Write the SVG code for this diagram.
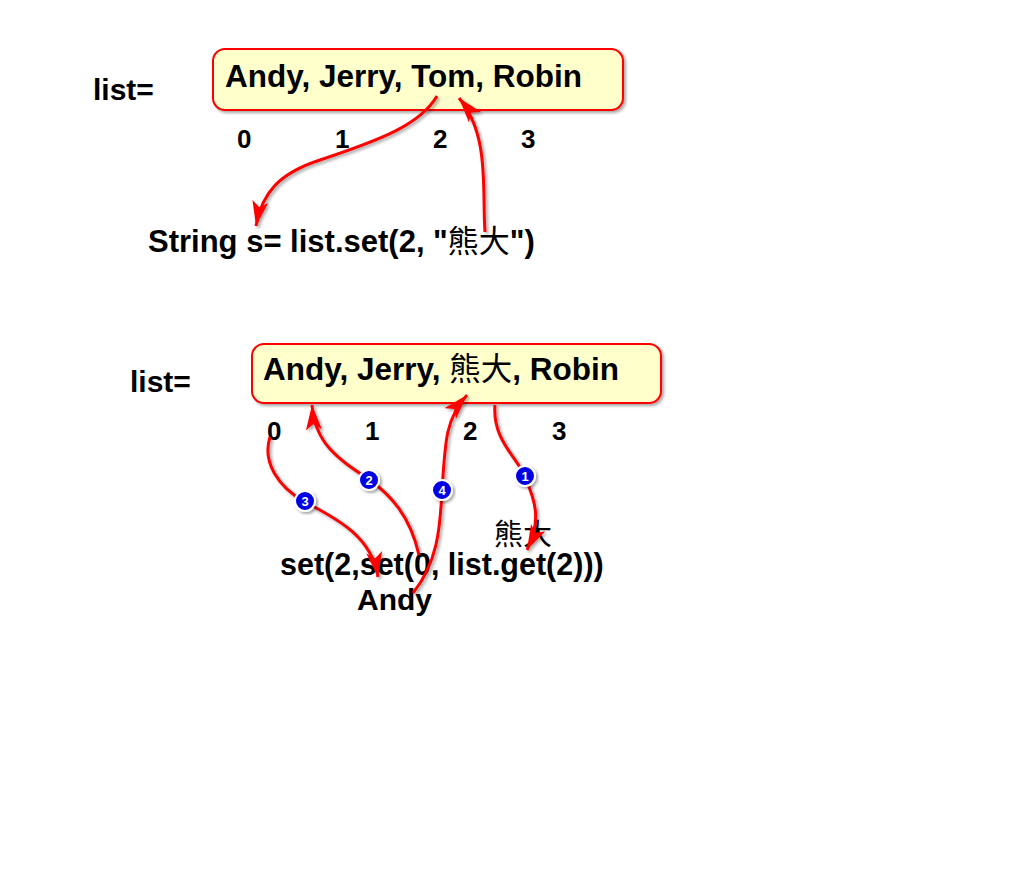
<svg xmlns="http://www.w3.org/2000/svg" width="1024" height="873" viewBox="0 0 1024 873">
<defs>
<style>
.t{font-family:"Liberation Sans","Noto Sans CJK TC",Arial,sans-serif;font-weight:bold;fill:#000}
.cjk{font-family:"Noto Sans CJK TC","Noto Sans CJK SC",sans-serif;font-weight:normal}
.box{fill:#FFFFCC;stroke:#FF0000;stroke-width:2}
.c{fill:none;stroke:#FF0000;stroke-width:3;marker-end:url(#ah)}
.bd{fill:#0000E6;stroke:#fff;stroke-width:2}
.bt{font-family:"Liberation Sans",Arial,sans-serif;font-weight:bold;font-size:13px;fill:#fff;text-anchor:middle}
</style>
<filter id="sh" x="-10%" y="-10%" width="130%" height="130%">
<feDropShadow dx="2" dy="2" stdDeviation="1.5" flood-color="#000" flood-opacity="0.35"/>
</filter>
<marker id="ah" markerUnits="userSpaceOnUse" markerWidth="28" markerHeight="18" refX="25" refY="8" orient="auto">
<path d="M0,0 L25,8 L0,16 L6,8 z" fill="#FF0000"/>
</marker>
</defs>
<rect width="1024" height="873" fill="#fff"/>

<g id="top">
<text class="t" x="93" y="100" font-size="30">list=</text>
<g id="box1">
<rect class="box" x="213" y="49" width="410" height="61" rx="12" filter="url(#sh)"/>
<text class="t" x="225" y="87" font-size="31.5">Andy, Jerry, Tom, Robin</text>
</g>
<g id="idx1">
<text class="t" x="237" y="148" font-size="26">0</text>
<text class="t" x="335" y="148" font-size="26">1</text>
<text class="t" x="433" y="148" font-size="26">2</text>
<text class="t" x="521" y="148" font-size="26">3</text>
</g>
<g id="stmt1">
<text class="t" x="148" y="252" font-size="31">String s= list.set(2, "<tspan class="cjk">熊大</tspan>")</text>
</g>
</g>

<g id="bottom">
<text class="t" x="130" y="392" font-size="30">list=</text>
<g id="box2">
<rect class="box" x="252" y="344" width="409" height="59" rx="12" filter="url(#sh)"/>
<text class="t" x="263" y="380" font-size="31.5">Andy, Jerry, <tspan class="cjk">熊大</tspan>, Robin</text>
</g>
<g id="idx2">
<text class="t" x="267" y="440" font-size="26">0</text>
<text class="t" x="365" y="440" font-size="26">1</text>
<text class="t" x="463" y="440" font-size="26">2</text>
<text class="t" x="552" y="440" font-size="26">3</text>
</g>
<g id="val">
<text class="cjk" x="494" y="545" font-size="29" fill="#000">熊大</text>
</g>
<g id="expr">
<text class="t" x="280" y="575" font-size="30.5">set(2,set(0, list.get(2)))</text>
</g>
<g id="andy">
<text class="t" x="357" y="610" font-size="30">Andy</text>
</g>
</g>

<g id="connectors" filter="url(#sh)">
<path class="c" d="M437,96 C420,125 380,140 320,160 C280,173 262,192 256,226"/>
<path class="c" d="M485,232 C482,190 490,135 459,98"/>
<path class="c" d="M495,405 C492,440 518,458 525,477 C535,500 542,520 527,550"/>
<path class="c" d="M419,555 C410,515 390,495 370,480 C340,460 315,445 312,405"/>
<path class="c" d="M270,437 C262,462 278,487 305,502 C340,520 372,538 378,577"/>
<path class="c" d="M413,593 C440,560 440,520 442,492 C445,440 446,418 467,395"/>
</g>

<g id="badges">
<g id="b1"><circle class="bd" cx="525" cy="476" r="10" filter="url(#sh)"/><text class="bt" x="525" y="480.5">1</text></g>
<g id="b2"><circle class="bd" cx="369" cy="480" r="10" filter="url(#sh)"/><text class="bt" x="369" y="484.5">2</text></g>
<g id="b3"><circle class="bd" cx="305" cy="501" r="10" filter="url(#sh)"/><text class="bt" x="305" y="505.5">3</text></g>
<g id="b4"><circle class="bd" cx="442" cy="490" r="10" filter="url(#sh)"/><text class="bt" x="442" y="494.5">4</text></g>
</g>
</svg>
